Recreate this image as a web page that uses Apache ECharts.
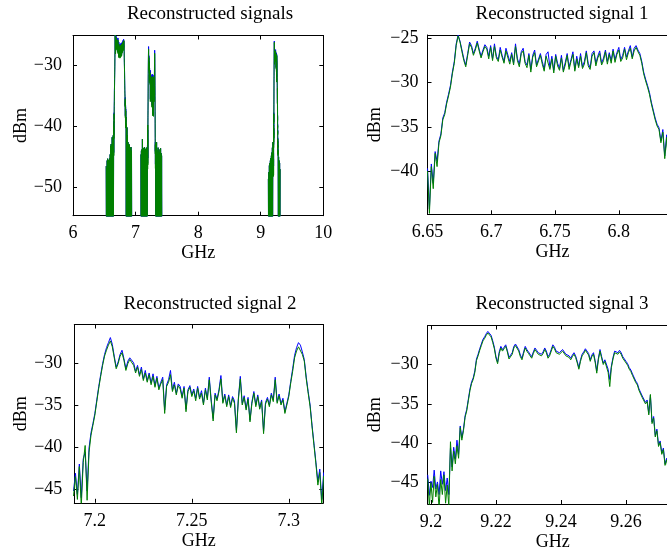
<!DOCTYPE html>
<html>
<head>
<meta charset="utf-8">
<script src="https://cdn.jsdelivr.net/npm/echarts@6/dist/echarts.min.js"></script>
<style>
  html, body { margin: 0; padding: 0; background: #fff; }
  #chart { width: 667px; height: 552px; }
</style>
</head>
<body>
<div id="chart"></div>
<script>
// ---- tick labels ----
const xTicks1 = [6, 7, 8, 9, 10];
const yTicks1 = [-50, -40, -30];
const xTicks2 = [6.65, 6.7, 6.75, 6.8];
const yTicks2 = [-40, -35, -30, -25];
const xTicks3 = [7.2, 7.25, 7.3];
const yTicks3 = [-45, -40, -35, -30];
const xTicks4 = [9.2, 9.22, 9.24, 9.26];
const yTicks4 = [-45, -40, -35, -30];

// ---- signal 1 (GHz grid: start + step * i) ----
const sig1Start = 6.65, sig1Step = 0.0015;
const sig1Green = [
  -40.0,-44.8,-39.5,-42.0,-38.0,-39.5,-36.8,-36.0,-34.2,-33.6,
  -32.4,-31.5,-30.5,-29.0,-27.8,-25.8,-24.7,-25.4,-26.5,-27.5,
  -28.2,-26.9,-25.6,-26.0,-26.9,-26.3,-25.5,-26.4,-27.2,-26.5,
  -25.9,-26.2,-27.3,-26.0,-27.5,-25.9,-27.2,-27.6,-26.3,-27.1,
  -27.8,-26.4,-26.2,-27.9,-26.8,-28.0,-25.9,-27.5,-28.2,-26.7,
  -26.4,-27.8,-28.3,-26.9,-28.8,-27.1,-26.6,-28.2,-28.4,-26.9,
  -27.9,-28.7,-27.0,-26.8,-28.5,-27.3,-28.9,-27.0,-28.1,-28.6,
  -27.2,-28.8,-28.0,-26.9,-28.5,-27.6,-26.8,-28.7,-27.3,-28.3,
  -27.0,-28.4,-27.9,-26.6,-28.1,-28.5,-27.0,-26.6,-28.1,-27.2,
  -26.7,-28.0,-27.5,-26.5,-27.9,-26.8,-27.8,-26.4,-27.7,-26.8,
  -26.3,-27.6,-27.2,-26.2,-27.4,-26.6,-26.1,-27.3,-26.4,-26.0,
  -26.5,-26.9,-27.8,-29.0,-29.8,-30.5,-31.3,-32.4,-33.3,-34.2,
  -34.9,-35.3,-36.8,-35.6,-38.6,-36.2,-39.8,-36.9,-40.3,-37.5,-39.6
];
const sig1Blue = [
  -39.7,-44.3,-39.2,-41.4,-37.8,-38.9,-36.6,-35.8,-34.0,-33.4,
  -32.2,-31.3,-30.3,-28.8,-27.6,-25.6,-24.6,-25.3,-26.3,-27.3,
  -28.0,-26.7,-25.4,-25.8,-26.7,-26.1,-25.3,-26.2,-27.0,-26.3,
  -25.7,-26.0,-27.0,-25.8,-27.3,-25.6,-27.0,-27.4,-26.0,-26.9,
  -27.6,-26.1,-26.0,-27.6,-26.6,-27.8,-25.6,-27.3,-27.9,-26.5,
  -26.1,-27.6,-28.0,-26.7,-28.5,-26.9,-26.3,-28.0,-28.1,-26.7,
  -27.6,-28.5,-26.8,-26.5,-28.3,-27.0,-28.6,-26.8,-27.8,-28.4,
  -26.9,-28.6,-27.7,-26.7,-28.2,-27.4,-26.5,-28.5,-27.0,-28.1,
  -26.7,-28.2,-27.6,-26.4,-27.8,-28.3,-26.7,-26.4,-27.8,-27.0,
  -26.4,-27.8,-27.2,-26.3,-27.6,-26.6,-27.5,-26.2,-27.4,-26.6,
  -26.0,-27.4,-26.9,-26.0,-27.1,-26.4,-25.8,-27.1,-26.1,-25.8,
  -26.3,-26.7,-27.6,-28.8,-29.6,-30.3,-31.1,-32.2,-33.1,-34.0,
  -34.7,-35.1,-36.6,-35.3,-38.3,-35.9,-39.4,-36.6,-40.0,-37.2,-39.3
];

// ---- signal 2 ----
const sig2Start = 7.189, sig2Step = 0.001;
const sig2Green = [
  -45.8,-43.5,-46.2,-42.3,-47.0,-41.8,-39.8,-46.3,-40.6,-38.6,
  -37.4,-36.2,-34.6,-33.0,-31.6,-30.3,-29.2,-28.5,-27.9,-27.4,
  -28.1,-29.4,-30.7,-30.1,-29.2,-28.8,-29.7,-30.9,-30.1,-29.6,
  -29.4,-30.3,-31.2,-30.5,-31.6,-30.8,-32.1,-31.2,-32.3,-31.4,
  -32.6,-31.6,-32.9,-31.8,-33.2,-32.5,-32.0,-36.0,-32.8,-32.3,
  -31.4,-33.4,-32.6,-33.8,-32.7,-33.1,-34.2,-33.0,-35.8,-33.4,
  -32.9,-34.0,-33.3,-34.5,-33.0,-34.3,-33.6,-35.0,-33.2,-34.4,
  -32.0,-34.6,-36.9,-33.8,-34.5,-33.4,-31.9,-34.8,-33.9,-35.2,
  -34.0,-35.3,-34.2,-34.8,-38.3,-34.4,-31.9,-35.0,-34.1,-35.6,
  -34.3,-37.0,-34.8,-33.6,-35.2,-34.0,-35.5,-34.6,-38.4,-34.9,
  -34.3,-35.2,-33.8,-34.6,-32.0,-34.8,-33.9,-35.0,-34.4,-36.0,
  -35.8,-34.0,-32.4,-31.0,-29.4,-28.6,-28.1,-28.3,-29.0,-29.8,
  -31.9,-33.6,-35.2,-37.6,-39.8,-42.0,-44.5,-43.0,-46.9,-43.4
];
const sig2Blue = [
  -45.2,-43.1,-45.6,-42.0,-46.0,-41.4,-40.6,-45.2,-40.1,-38.3,
  -37.2,-36.0,-34.4,-32.8,-31.4,-30.1,-29.0,-28.2,-27.6,-27.0,
  -27.8,-29.2,-30.5,-29.9,-29.0,-28.5,-29.5,-30.7,-29.8,-29.4,
  -29.2,-30.0,-31.0,-30.3,-31.4,-30.5,-31.9,-30.9,-32.1,-31.2,
  -32.4,-31.3,-32.7,-31.6,-33.0,-32.3,-31.7,-35.6,-32.6,-32.0,
  -30.9,-33.2,-32.3,-33.6,-32.5,-32.8,-34.0,-32.8,-35.5,-33.2,
  -32.7,-33.8,-33.1,-34.2,-32.8,-34.1,-33.3,-34.8,-33.0,-34.2,
  -31.7,-34.4,-36.6,-33.6,-34.3,-33.2,-31.5,-34.6,-33.7,-35.0,
  -33.8,-35.1,-34.0,-34.5,-38.0,-34.2,-31.6,-34.8,-33.9,-35.4,
  -34.1,-36.8,-34.6,-33.4,-35.0,-33.8,-35.3,-34.4,-38.1,-34.7,
  -34.1,-35.0,-33.6,-34.4,-31.7,-34.6,-33.7,-34.8,-34.2,-35.8,
  -35.6,-33.8,-32.2,-30.7,-29.1,-28.2,-27.6,-27.9,-28.7,-29.6,
  -31.7,-33.4,-35.0,-37.4,-39.6,-41.8,-44.1,-42.6,-46.2,-43.0
];

// ---- signal 3 ----
const sig3Start = 9.199, sig3Step = 0.0005;
const sig3Green = [
  -44.5,-47.9,-45.0,-47.5,-44.2,-46.8,-45.2,-48.2,-44.6,-46.5,
  -44.0,-47.6,-45.3,-48.0,-39.8,-43.5,-41.0,-42.6,-40.3,-41.9,
  -38.0,-39.6,-38.4,-36.7,-35.9,-34.6,-33.3,-32.4,-31.9,-31.0,
  -29.5,-28.9,-28.2,-27.6,-27.0,-26.7,-26.3,-26.0,-26.1,-26.5,
  -27.2,-28.0,-29.2,-29.9,-28.6,-27.9,-28.3,-28.0,-27.7,-28.4,
  -29.3,-29.2,-28.7,-27.9,-27.6,-27.8,-28.3,-29.0,-29.4,-28.6,
  -27.9,-28.3,-28.6,-28.9,-29.2,-28.6,-28.1,-28.4,-28.7,-28.5,
  -28.9,-28.6,-28.1,-28.5,-29.2,-28.9,-28.3,-27.7,-28.0,-28.5,
  -28.6,-28.7,-28.5,-28.3,-28.4,-28.9,-28.7,-29.1,-29.4,-29.0,
  -28.7,-29.1,-29.8,-30.6,-29.6,-28.9,-28.6,-28.2,-28.1,-28.8,
  -29.6,-29.0,-28.7,-29.7,-31.1,-29.4,-28.3,-29.2,-30.0,-29.6,
  -29.4,-31.0,-32.8,-30.4,-29.3,-28.5,-28.6,-28.7,-28.4,-28.7,
  -29.2,-29.4,-29.8,-30.1,-30.6,-30.9,-31.4,-31.6,-32.3,-32.6,
  -33.3,-33.5,-34.2,-34.0,-35.0,-34.7,-36.4,-33.8,-37.5,-36.8,
  -39.2,-38.4,-40.4,-39.9,-41.4,-40.8,-42.8,-42.1,-43.4,-42.6,
  -43.8,-43.2,-44.5,-43.9,-44.8
];
const sig3Blue = [
  -44.0,-46.6,-44.8,-45.6,-43.4,-45.8,-44.9,-46.5,-43.5,-45.2,
  -43.6,-46.0,-44.4,-46.5,-40.6,-43.0,-40.5,-42.0,-39.6,-41.4,
  -37.8,-39.3,-38.2,-36.5,-35.7,-34.4,-33.1,-32.2,-31.7,-30.8,
  -29.3,-28.7,-28.0,-27.4,-26.8,-26.5,-26.1,-25.8,-25.9,-26.3,
  -27.0,-27.8,-29.0,-29.7,-28.4,-27.7,-28.1,-27.8,-27.5,-28.2,
  -29.1,-29.0,-28.5,-27.7,-27.4,-27.6,-28.1,-28.8,-29.2,-28.4,
  -27.7,-28.1,-28.4,-28.7,-29.0,-28.4,-27.9,-28.2,-28.5,-28.3,
  -28.7,-28.4,-27.9,-28.3,-29.0,-28.7,-28.1,-27.5,-27.8,-28.3,
  -28.4,-28.5,-28.3,-28.1,-28.2,-28.7,-28.5,-28.9,-29.2,-28.8,
  -28.5,-28.9,-29.6,-30.4,-29.4,-28.7,-28.4,-28.0,-27.9,-28.6,
  -29.4,-28.8,-28.5,-29.5,-30.8,-29.2,-28.1,-29.0,-29.8,-29.4,
  -29.2,-30.6,-31.9,-30.2,-29.1,-28.3,-28.4,-28.5,-28.2,-28.5,
  -29.0,-29.2,-29.6,-29.9,-30.4,-30.7,-31.2,-31.4,-32.1,-32.4,
  -33.1,-33.3,-34.0,-33.8,-34.8,-34.5,-36.2,-33.9,-37.3,-36.6,
  -39.0,-38.2,-40.2,-39.7,-41.2,-40.6,-42.6,-41.9,-43.2,-42.4,
  -43.6,-43.0,-44.3,-43.7,-44.6
];

// ---- out-of-band noise seen in the overview (step 0.004 GHz) ----
const noiseStep = 0.004;
const band1LoStart = 6.530;
const band1Lo = [-46.5,-60,-46.8,-58,-45.6,-61,-45.3,-59,-46.0,-60,-45.5,-58,-45.8,-61,-45.2,
                 -60,-44.6,-58,-43.2,-61,-42.9,-59,-43.4,-60,-41.8,-58,-42.5,-61,-41.5,-57];
const band1HiStart = 6.847;
const band1Hi = [-38.5,-58,-39.6,-60,-40.2,-59,-41.5,-61,-42.6,-58,-42.9,-60,
                 -43.3,-59,-43.0,-61,-43.5,-58,-43.8,-60,-43.4,-59,-44.0,-61];
const band2LoStart = 7.085;
const band2Lo = [-44.6,-60,-44.0,-58,-43.8,-61,-42.1,-59,-44.5,-60,-43.6,-58,-44.9,
                 -61,-43.4,-60,-44.2,-58,-43.7,-61,-44.8,-59,-43.5,-60,-44.1,-58];
const band2HiStart = 7.320;
const band2Hi = [-42.8,-60,-43.1,-58,-42.6,-61,-43.9,-59,-44.3,-60,-43.5,-58,-44.6,
                 -61,-43.8,-60,-44.2,-58,-44.7,-61,-43.6,-59,-44.4,-60,-44.8,-58];
const band3LoStart = 9.122;
const band3Lo = [-48.6,-60,-47.5,-58,-46.4,-61,-46.0,-59,-45.6,-60,-45.2,-58,-44.8,-61,-44.3,-60,-43.5,-58,-42.6];
const band3HiStart = 9.278;
const band3Hi = [-44.0,-60,-45.0,-58,-45.6,-61,-46.0,-59,-47.0];

function pts(start, step, vals) {
  return vals.map((v, i) => [+(start + i * step).toFixed(5), v]);
}

function overview(s1, s2, s3) {
  return [].concat(
    pts(band1LoStart, noiseStep, band1Lo),
    pts(sig1Start, sig1Step, s1),
    pts(band1HiStart, noiseStep, band1Hi),
    [[7.0, null]],
    pts(band2LoStart, noiseStep, band2Lo),
    pts(sig2Start, sig2Step, s2),
    pts(band2HiStart, noiseStep, band2Hi),
    [[8.0, null]],
    pts(band3LoStart, noiseStep, band3Lo),
    pts(sig3Start, sig3Step, s3),
    pts(band3HiStart, noiseStep, band3Hi)
  );
}

const FONT = "'Liberation Serif', 'DejaVu Serif', serif";
const BLUE = '#0000ff';
const GREEN = '#008000';

const panels = [
  { title: 'Reconstructed signals', tx: 210, ty: 14,
    grid: { left: 73, top: 35.5, width: 250.3, height: 180.2 },
    x: [6, 10], y: [-54.6, -25.2], xt: xTicks1, yt: yTicks1, ym: 11, ng: 33,
    blue: overview(sig1Blue, sig2Blue, sig3Blue),
    green: overview(sig1Green, sig2Green, sig3Green) },
  { title: 'Reconstructed signal 1', tx: 562, ty: 14,
    grid: { left: 427.5, top: 35, width: 250, height: 179.3 },
    x: [6.65, 6.846], y: [-44.9, -24.6], xt: xTicks2, yt: yTicks2, ym: 9, ng: 43,
    blue: pts(sig1Start, sig1Step, sig1Blue),
    green: pts(sig1Start, sig1Step, sig1Green) },
  { title: 'Reconstructed signal 2', tx: 210, ty: 304,
    grid: { left: 74.3, top: 324.5, width: 249, height: 178.3 },
    x: [7.1894, 7.3178], y: [-46.6, -25.45], xt: xTicks3, yt: yTicks3, ym: 12, ng: 35,
    blue: pts(sig2Start, sig2Step, sig2Blue),
    green: pts(sig2Start, sig2Step, sig2Green) },
  { title: 'Reconstructed signal 3', tx: 562, ty: 304,
    grid: { left: 427.7, top: 325.5, width: 250, height: 178.5 },
    x: [9.199, 9.2759], y: [-47.7, -25.05], xt: xTicks4, yt: yTicks4, ym: 9, ng: 43,
    blue: pts(sig3Start, sig3Step, sig3Blue),
    green: pts(sig3Start, sig3Step, sig3Green) }
];

const fmt = (v) => String(+(+v).toFixed(4)).replace('-', '\u2212');

const grids = [], xAxes = [], yAxes = [], series = [], graphics = [];
const n = panels.length;

panels.forEach((p, k) => {
  grids.push(Object.assign({ containLabel: false, outerBoundsMode: 'none' }, p.grid));

  const tick = (vals) => ({ show: true, inside: true, length: 4, customValues: vals,
                            lineStyle: { color: '#000', width: 1 } });
  const line = { show: true, onZero: false, lineStyle: { color: '#000', width: 1 } };

  xAxes[k] = {
    type: 'value', gridIndex: k, position: 'bottom', min: p.x[0], max: p.x[1],
    axisLine: line, axisTick: tick(p.xt), splitLine: { show: false },
    axisLabel: { customValues: p.xt, formatter: fmt, margin: 9, color: '#000',
                 fontFamily: FONT, fontSize: 18 },
    name: 'GHz', nameLocation: 'middle', nameGap: 29,
    nameTextStyle: { color: '#000', fontFamily: FONT, fontSize: 18 }
  };
  xAxes[k + n] = {
    type: 'value', gridIndex: k, position: 'top', min: p.x[0], max: p.x[1],
    axisLine: line, axisTick: tick(p.xt), axisLabel: { show: false }, splitLine: { show: false }
  };
  yAxes[k] = {
    type: 'value', gridIndex: k, position: 'left', min: p.y[0], max: p.y[1],
    axisLine: line, axisTick: tick(p.yt), splitLine: { show: false },
    axisLabel: { customValues: p.yt, formatter: fmt, margin: p.ym, color: '#000',
                 fontFamily: FONT, fontSize: 18 },
    name: 'dBm', nameLocation: 'middle', nameGap: p.ng,
    nameTextStyle: { color: '#000', fontFamily: FONT, fontSize: 18 }
  };
  yAxes[k + n] = {
    type: 'value', gridIndex: k, position: 'right', min: p.y[0], max: p.y[1],
    axisLine: line, axisTick: tick(p.yt), axisLabel: { show: false }, splitLine: { show: false }
  };

  [[p.blue, BLUE], [p.green, GREEN]].forEach(([data, color]) => {
    series.push({
      type: 'line', xAxisIndex: k, yAxisIndex: k, data: data,
      showSymbol: false, symbol: 'none', clip: true, connectNulls: false,
      lineStyle: { color: color, width: 1 }, itemStyle: { color: color },
      emphasis: { disabled: true }, silent: true
    });
  });

  graphics.push({
    type: 'text', x: p.tx, y: p.ty,
    style: { text: p.title, align: 'center', verticalAlign: 'middle',
             font: '19px ' + FONT, fill: '#000' }
  });
});

const chart = echarts.init(document.getElementById('chart'), null, { renderer: 'canvas' });
chart.setOption({
  backgroundColor: '#fff',
  animation: false,
  grid: grids,
  xAxis: xAxes,
  yAxis: yAxes,
  series: series,
  graphic: graphics
});
</script>
</body>
</html>
